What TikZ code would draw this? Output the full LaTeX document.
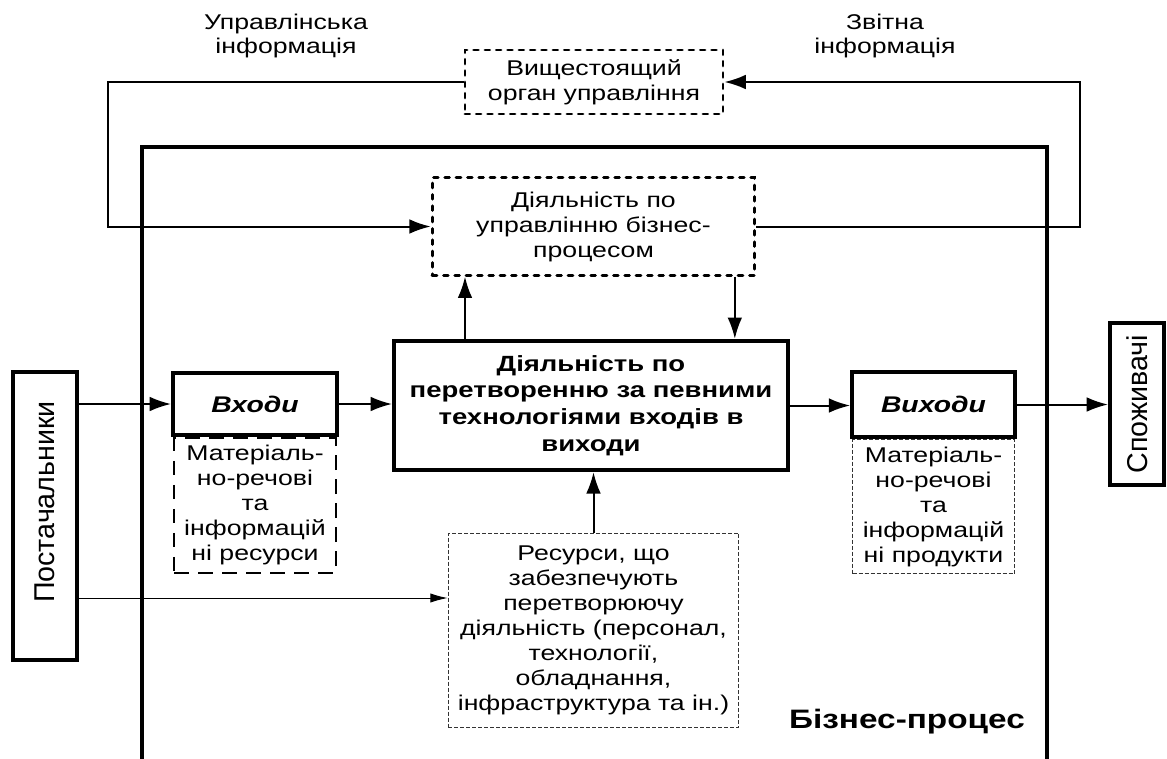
\documentclass[tikz,border=0pt]{standalone}
\usepackage{fontspec}
\setmainfont{Liberation Sans}[FakeStretch=1.25]
\newfontfamily\uprightfont{Liberation Sans}
\usetikzlibrary{arrows.meta, positioning, calc}
\newcommand{\txtfont}{\fontsize{16}{18.75}\selectfont}
\newcommand{\boldfont}{\fontsize{16.5}{20}\selectfont\bfseries}
\newcommand{\sidefont}{\uprightfont\fontsize{21.5}{26}\selectfont}
\tikzset{
  box/.style={draw, line width=3pt, rectangle, align=center, inner sep=0pt},
  dotbox/.style={draw, line width=2.2pt, dash pattern=on 3.5pt off 5pt, line cap=round, align=center, inner sep=0pt, font=\txtfont},
  dashbox/.style={draw, line width=1.7pt, dash pattern=on 11pt off 7pt, align=center, inner sep=0pt, font=\txtfont},
  thinbox/.style={draw=black!80, line width=0.75pt, dash pattern=on 3pt off 1.5pt, align=center, inner sep=0pt, font=\txtfont},
  conn/.style={line width=1.5pt, -{Latex[length=16pt,width=11pt]}},
  thinconn/.style={line width=0.75pt, -{Latex[length=13pt,width=7pt]}},
  frame/.style={line width=3pt}
}

\begin{document}
\begin{tikzpicture}[x=0.75pt,y=-0.75pt,line join=miter]
	\useasboundingbox (0,0) rectangle (1167,758);

	% business process frame
	\draw[frame] (142,790) -- (142,147) -- (1047,147) -- (1047,790);
	\node[font=\fontsize{20}{24}\selectfont\bfseries] (bp) at (907,722) {Бізнес-процес};

	% labels on the feedback loop
	\node[align=center, font=\fontsize{16}{17.5}\selectfont] (mlab) at (286,36) {Управлінська\\інформація};
	\node[align=center, font=\fontsize{16}{17.5}\selectfont] (rlab) at (885,36) {Звітна\\інформація};

	\node[dotbox, minimum width=193.5pt, minimum height=48pt] (upper) at (594,82) {Вищестоящий\\орган управління};
	\node[dotbox, minimum width=242pt, minimum height=73pt] (mgmt) at (593.5,226.5) {Діяльність по\\управлінню бізнес-\\процесом};
	\node[box, font=\boldfont, minimum width=295.5pt, minimum height=97pt] (main) at (591,405.5)
	  {Діяльність по\\перетворенню за певними\\технологіями входів в\\виходи};

	% inputs and outputs
	\node[box, font=\fontsize{17}{20}\selectfont\bfseries\itshape, minimum width=123pt, minimum height=46.5pt] (in) at (255,404) {Входи};
	\node[dashbox, minimum width=121pt, minimum height=101pt, anchor=north] (inres) at (in.south)
	  {Матеріаль-\\но-речові\\та\\інформацій\\ні ресурси};
	\node[box, font=\fontsize{17}{20}\selectfont\bfseries\itshape, minimum width=122pt, minimum height=49pt] (out) at (933.5,404.5) {Виходи};
	\node[thinbox, minimum width=121.5pt, minimum height=100.5pt, anchor=north] (outres) at (out.south)
	  {Матеріаль-\\но-речові\\та\\інформацій\\ні продукти};
	\node[thinbox, minimum width=218pt, minimum height=145.5pt] (res) at (593.5,630)
	  {Ресурси, що\\забезпечують\\перетворюючу\\діяльність (персонал,\\технології,\\обладнання,\\інфраструктура та ін.)};

	% suppliers and consumers
	\node[box, font=\sidefont, minimum width=48pt, minimum height=216pt] (sup) at (45,516) {\rotatebox{90}{\hspace{21pt}Постачальники}};
	\node[box, font=\sidefont, minimum width=40.5pt, minimum height=121.5pt] (cons) at (1137,404) {\rotatebox{90}{Споживачі}};

	% connectors
	\draw[conn] (upper.west) -- ++(-356,0) |- (mgmt.west);
	\draw[conn] (mgmt.east) -- ++(324,0) |- (upper.east);
	\draw[conn] ([xshift=-94.5pt]main.north) -- ([xshift=-94.5pt]main.north |- mgmt.south);
	\draw[conn] ([xshift=106pt]mgmt.south) -- ([xshift=106pt]mgmt.south |- main.north);
	\draw[conn] (res.north) -- (res.north |- main.south);
	\draw[conn] (sup.east |- in.west) -- (in.west);
	\draw[conn] (in.east) -- (in.east -| main.west);
	\draw[conn] (main.east) -- (main.east -| out.west);
	\draw[conn] (out.east) -- (out.east -| cons.west);
	\coordinate (resin) at ([yshift=24pt]res.west);
	\draw[thinconn] (sup.east |- resin) -- (resin);

\end{tikzpicture}
\end{document}
